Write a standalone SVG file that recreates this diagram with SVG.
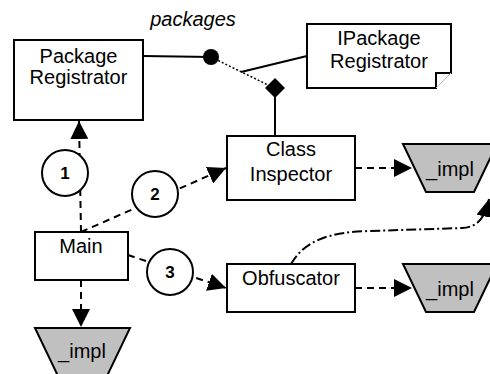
<svg xmlns="http://www.w3.org/2000/svg" width="490" height="374" viewBox="0 0 490 374">
<defs>
<style>
.box{fill:#fff;stroke:#000;stroke-width:2}
.trap{fill:#c0c0c0;stroke:#000;stroke-width:2}
.t{font-family:"Liberation Sans",Arial,sans-serif;font-size:20px;fill:#000;text-anchor:middle}
.num{font-family:"Liberation Sans",Arial,sans-serif;font-size:17px;font-weight:bold;fill:#000;text-anchor:middle}
.dash{fill:none;stroke:#000;stroke-width:2;stroke-dasharray:7 5}
.solid{fill:none;stroke:#000;stroke-width:2}
.circ{fill:#fff;stroke:#000;stroke-width:2}
</style>
<marker id="arr" markerUnits="userSpaceOnUse" markerWidth="19" markerHeight="18" refX="18" refY="9" orient="auto" viewBox="0 0 19 18">
<path d="M0,0 L18,9 L0,18 z" fill="#000"/>
</marker>
</defs>
<rect width="490" height="374" fill="#fff"/>
<g id="connectors">
<line class="solid" x1="143" y1="56" x2="211" y2="57"/>
<line x1="211" y1="57" x2="268" y2="85" stroke="#000" stroke-width="1.5" stroke-dasharray="2 2"/>
<line class="solid" x1="241" y1="72" x2="307" y2="56"/>
<line class="solid" x1="275" y1="96" x2="275" y2="136"/>
<line class="dash" x1="81" y1="232" x2="79" y2="121" marker-end="url(#arr)"/>
<line class="dash" x1="81" y1="232" x2="226" y2="168" marker-end="url(#arr)"/>
<line class="dash" x1="128" y1="255" x2="226" y2="288" marker-end="url(#arr)"/>
<line class="dash" x1="81" y1="280" x2="81" y2="327" marker-end="url(#arr)"/>
<line class="dash" x1="355" y1="168" x2="412" y2="168" marker-end="url(#arr)"/>
<line class="dash" x1="355" y1="288" x2="412" y2="288" marker-end="url(#arr)"/>
<path d="M291,264 C305,240 330,232 370,231 L462,228 C478,227 485,218 489,199" fill="none" stroke="#000" stroke-width="2" stroke-dasharray="10 3 2 3" marker-end="url(#arr)"/>
<circle cx="211" cy="57" r="8" fill="#000"/>
<path d="M275,78 L285,88 L275,98 L265,88 z" fill="#000"/>
</g>
<g id="package-registrator">
<rect class="box" x="14" y="40" width="129" height="80"/>
<text class="t" x="78.5" y="63">Package</text>
<text class="t" x="78.5" y="84">Registrator</text>
</g>
<text x="193" y="26" font-family="Liberation Sans, Arial, sans-serif" font-size="20" font-style="italic" text-anchor="middle">packages</text>
<g id="ipackage-registrator">
<path class="box" d="M307,24 H451 V73 H436 V88 H307 Z"/>
<line x1="436" y1="88" x2="451" y2="73" stroke="#bbb" stroke-width="1"/>
<text class="t" x="379" y="45">IPackage</text>
<text class="t" x="379" y="68">Registrator</text>
</g>
<g id="class-inspector">
<rect class="box" x="227" y="136" width="128" height="64"/>
<text class="t" x="291" y="156">Class</text>
<text class="t" x="291" y="181">Inspector</text>
</g>
<g id="obfuscator">
<rect class="box" x="227" y="264" width="128" height="48"/>
<text class="t" x="291" y="285">Obfuscator</text>
</g>
<g id="main">
<rect class="box" x="35" y="232" width="93" height="48"/>
<text class="t" x="81" y="253">Main</text>
</g>
<g id="impl-1">
<path class="trap" d="M403,144 H497 L474,192 H426 Z"/>
<text class="t" x="450" y="176">_impl</text>
</g>
<g id="impl-2">
<path class="trap" d="M403,264 H497 L474,312 H426 Z"/>
<text class="t" x="450" y="296">_impl</text>
</g>
<g id="impl-3">
<path class="trap" d="M35,328 H130 L107,376 H58 Z"/>
<text class="t" x="82" y="358">_impl</text>
</g>
<g id="step-1">
<circle class="circ" cx="65" cy="173" r="23"/>
<text class="num" x="65" y="179">1</text>
</g>
<g id="step-2">
<circle class="circ" cx="155" cy="194" r="23"/>
<text class="num" x="155" y="200">2</text>
</g>
<g id="step-3">
<circle class="circ" cx="170" cy="272" r="23"/>
<text class="num" x="170" y="278">3</text>
</g>
</svg>
